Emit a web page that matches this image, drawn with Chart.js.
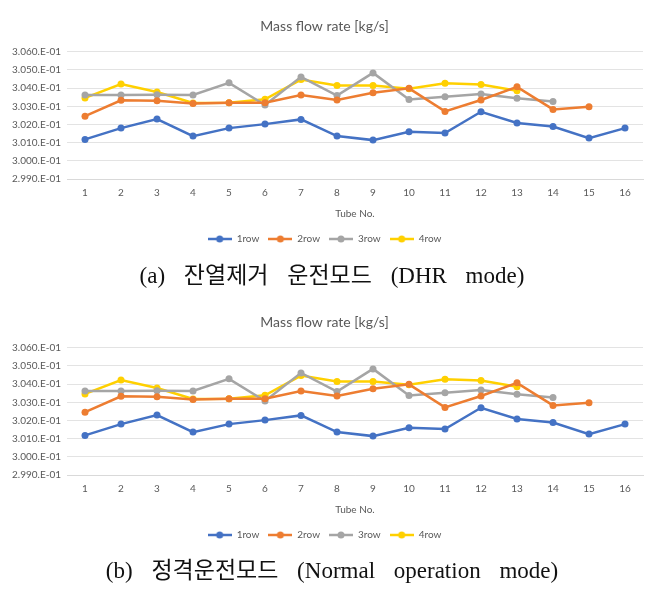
<!DOCTYPE html>
<html>
<head>
<meta charset="utf-8">
<script src="https://cdn.jsdelivr.net/npm/chart.js@4"></script>
<style>
  body { margin: 0; background: #fff; width: 664px; height: 591px; position: relative; overflow: hidden; }
  canvas { position: absolute; left: 0; }
  .caption {
    position: absolute; left: 0; width: 664px; text-align: center;
    font-family: "Liberation Serif", "Noto Sans CJK KR", serif;
    font-size: 23px; color: #111; word-spacing: 13px; white-space: nowrap;
  }
</style>
</head>
<body>
<canvas id="chartA" width="664" height="258" style="top:0px"></canvas>
<div class="caption" style="top:256px">(a) 잔열제거 운전모드 (DHR mode)</div>
<canvas id="chartB" width="664" height="258" style="top:296px"></canvas>
<div class="caption" style="top:551px">(b) 정격운전모드 (Normal operation mode)</div>
<script>
const tubes = ['1', '2', '3', '4', '5', '6', '7', '8', '9', '10', '11', '12', '13', '14', '15', '16'];
const rowNames = ['1row', '2row', '3row', '4row'];
const rowColors = ['#4472C4', '#ED7D31', '#A5A5A5', '#FFD000'];

// mass flow rate [kg/s]
const row1 = [0.30118, 0.30180, 0.30230, 0.30136, 0.30180, 0.30202, 0.30228, 0.30136, 0.30114, 0.30160, 0.30153, 0.30270, 0.30208, 0.30189, 0.30125, 0.30180];
const row2 = [0.30246, 0.30333, 0.30330, 0.30316, 0.30320, 0.30320, 0.30362, 0.30335, 0.30375, 0.30399, 0.30272, 0.30335, 0.30407, 0.30283, 0.30298, null];
const row3 = [0.30362, 0.30362, 0.30364, 0.30362, 0.30429, 0.30307, 0.30462, 0.30359, 0.30484, 0.30337, 0.30353, 0.30368, 0.30344, 0.30327, null, null];
const row4 = [0.30346, 0.30423, 0.30379, 0.30318, 0.30320, 0.30339, 0.30447, 0.30414, 0.30414, 0.30397, 0.30427, 0.30420, 0.30386, null, null, null];

const yMin = 0.2990;
const yMax = 0.3060;
const yStep = 0.0010;

const rows = [row1, row2, row3, row4];
const textColor = '#595959';
const fontFam = 'Lato, "Open Sans", sans-serif';

// little line-with-dot marker for the legend, like excel
function legendMarker(color) {
    const c = document.createElement('canvas');
    c.width = 24;
    c.height = 10;
    const ctx = c.getContext('2d');
    ctx.strokeStyle = color;
    ctx.lineWidth = 2.5;
    ctx.beginPath();
    ctx.moveTo(0, 5);
    ctx.lineTo(24, 5);
    ctx.stroke();
    ctx.fillStyle = color;
    ctx.beginPath();
    ctx.arc(12, 5, 3.5, 0, Math.PI * 2);
    ctx.fill();
    return c;
}
const markers = rowColors.map(legendMarker);

function makeChart(id) {
    const datasets = rows.map((r, i) => ({
        label: rowNames[i],
        data: r,
        borderColor: rowColors[i],
        backgroundColor: rowColors[i],
        borderWidth: 2.5,
        pointRadius: 3.5,
        pointBorderWidth: 0,
        tension: 0,
        spanGaps: false
    }));

    return new Chart(document.getElementById(id), {
        type: 'line',
        data: { labels: tubes, datasets: datasets },
        options: {
            responsive: false,
            animation: false,
            layout: { padding: { top: 18, left: 6, right: 21, bottom: 4 } },
            plugins: {
                title: {
                    display: true,
                    text: 'Mass flow rate [kg/s]',
                    color: textColor,
                    font: { family: fontFam, size: 14, weight: 'normal' },
                    padding: { top: 0, bottom: 17 }
                },
                legend: {
                    position: 'bottom',
                    labels: {
                        color: textColor,
                        font: { family: fontFam, size: 10 },
                        usePointStyle: true,
                        pointStyleWidth: 24,
                        padding: 9,
                        generateLabels: chart => chart.data.datasets.map((ds, i) => ({
                            text: ds.label,
                            pointStyle: markers[i],
                            fillStyle: ds.borderColor,
                            strokeStyle: ds.borderColor,
                            lineWidth: 0,
                            fontColor: textColor,
                            hidden: false,
                            datasetIndex: i
                        }))
                    }
                },
                tooltip: { enabled: false }
            },
            scales: {
                x: {
                    offset: true,
                    grid: { display: false, drawTicks: false },
                    border: { color: '#d9d9d9' },
                    ticks: { color: textColor, font: { family: fontFam, size: 10 }, padding: 8 },
                    title: {
                        display: true,
                        text: 'Tube No.',
                        color: textColor,
                        font: { family: fontFam, size: 10 },
                        padding: { top: 1, bottom: 5 }
                    }
                },
                y: {
                    min: yMin,
                    max: yMax,
                    grid: { color: '#e3e3e3', drawTicks: false },
                    border: { display: false },
                    ticks: {
                        stepSize: yStep,
                        color: textColor,
                        font: { family: fontFam, size: 10 },
                        padding: 6,
                        callback: v => (v * 10).toFixed(3) + '.E-01'
                    }
                }
            }
        }
    });
}

makeChart('chartA');
makeChart('chartB');
</script>
</body>
</html>
